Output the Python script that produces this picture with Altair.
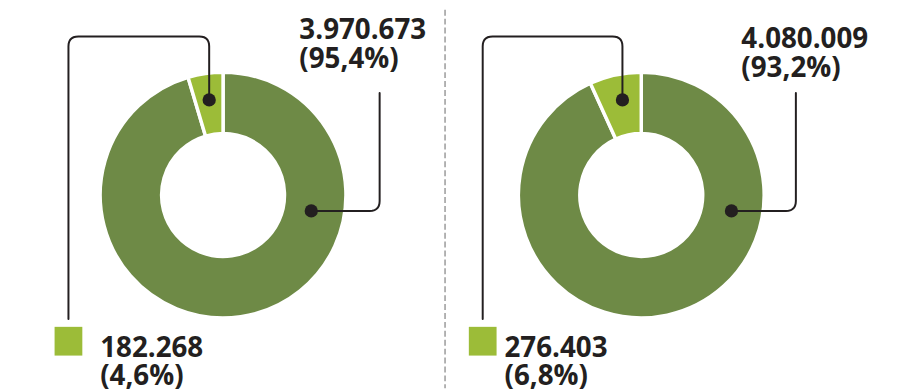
import altair as alt
import pandas as pd
import numpy as np

# ---------------- data ----------------
panels = ["Pannello A", "Pannello B"]
categories = ["Occupati non agricoli", "Occupati agricoli"]
values_a = [3970673, 182268]
values_b = [4080009, 276403]
pct_a = [95.4, 4.6]
pct_b = [93.2, 6.8]

# ---------------- style / layout ----------------
DARK = "#6e8a46"
LIGHT = "#9cbc38"
INK = "#231f20"
OFF = 8  # page margin
W, H = 900 - OFF, 390 - OFF
FONT = "Open Sans"

centers = {"Pannello A": (225, 195), "Pannello B": (647, 195)}

def fmt_num(v):
    return f"{v:,}".replace(",", ".")

def fmt_pct(p):
    return "(" + f"{p:.1f}".replace(".", ",") + "%)"

XS = alt.Scale(domain=[OFF, 900], range=[0, W], zero=False, nice=False)
YS = alt.Scale(domain=[OFF, 390], range=[0, H], zero=False, nice=False)

rows = []
for p, vals, pcts in [(panels[0], values_a, pct_a), (panels[1], values_b, pct_b)]:
    for i, (c, v, pc) in enumerate(zip(categories, vals, pcts)):
        rows.append({"panel": p, "cat": c, "value": v, "pct": pc, "ord": i})
df = pd.DataFrame(rows)

color_scale = alt.Scale(domain=categories, range=[DARK, LIGHT])

layers = []
for p in panels:
    cx, cy = centers[p]
    arc = alt.Chart(df).transform_filter(alt.datum.panel == p).mark_arc(
        innerRadius=62, outerRadius=124, stroke="white", strokeWidth=3.5
    ).encode(
        theta=alt.Theta("pct:Q", stack=True),
        color=alt.Color("cat:N", scale=color_scale, legend=None),
        order=alt.Order("ord:Q"),
        x=alt.value(cx - OFF),
        y=alt.value(cy - OFF),
    )
    layers.append(arc)

# leader line geometry (layout, reference pixel coords)
def rounded_path(pts, r=10, n=8):
    out = [pts[0]]
    for k in range(1, len(pts) - 1):
        p0, p1, p2 = map(np.array, (pts[k - 1], pts[k], pts[k + 1]))
        d1 = (p0 - p1) / np.linalg.norm(p0 - p1)
        d2 = (p2 - p1) / np.linalg.norm(p2 - p1)
        a = p1 + d1 * r
        b = p1 + d2 * r
        for t in np.linspace(0, 1, n):
            q = (1 - t) ** 2 * a + 2 * (1 - t) * t * p1 + t ** 2 * b
            out.append(tuple(q))
    out.append(pts[-1])
    return out

leaders = {
    "A_light": [(211, 99), (211, 35), (69, 35), (69, 320)],
    "A_dark": [(314, 211), (383, 211), (383, 92)],
    "B_light": [(628, 99), (628, 35), (487, 35), (487, 320)],
    "B_dark": [(738, 211), (803, 211), (803, 92)],
}
lrows = []
for name, pts in leaders.items():
    for j, (x, y) in enumerate(rounded_path(pts)):
        lrows.append({"path": name, "seq": j, "x": x, "y": y})
ldf = pd.DataFrame(lrows)

lines = alt.Chart(ldf).mark_line(color=INK, strokeWidth=2, strokeCap="round").encode(
    x=alt.X("x:Q", scale=XS, axis=None),
    y=alt.Y("y:Q", scale=YS, axis=None),
    detail="path:N",
    order="seq:Q",
)
layers.append(lines)

dots_df = pd.DataFrame([{"x": pts[0][0], "y": pts[0][1]} for pts in leaders.values()])
dots = alt.Chart(dots_df).mark_circle(color=INK, opacity=1, size=180).encode(
    x=alt.X("x:Q", scale=XS, axis=None),
    y=alt.Y("y:Q", scale=YS, axis=None),
)
layers.append(dots)

# legend squares at bottom
sq_df = pd.DataFrame([
    {"x": 55, "x2": 83, "y": 328, "y2": 357, "cat": categories[1]},
    {"x": 473, "x2": 501, "y": 328, "y2": 357, "cat": categories[1]},
])
squares = alt.Chart(sq_df).mark_rect().encode(
    x=alt.X("x:Q", scale=XS, axis=None), x2="x2:Q",
    y=alt.Y("y:Q", scale=YS, axis=None), y2="y2:Q",
    color=alt.Color("cat:N", scale=color_scale, legend=None),
)
layers.append(squares)

# labels (value + percentage on two lines)
label_pos = {
    (panels[0], categories[0]): (302, 38),
    (panels[0], categories[1]): (101, 358),
    (panels[1], categories[0]): (748, 47),
    (panels[1], categories[1]): (509, 358),
}
trows = []
for _, r in df.iterrows():
    x, y = label_pos[(r["panel"], r["cat"])]
    trows.append({"x": x, "y": y, "t": fmt_num(r["value"]) + "\n" + fmt_pct(r["pct"])})
tdf = pd.DataFrame(trows)
texts = alt.Chart(tdf).mark_text(
    font=FONT, fontWeight="bold", fontSize=28, align="left",
    baseline="alphabetic", color=INK, lineBreak="\n", lineHeight=29,
).encode(
    x=alt.X("x:Q", scale=XS, axis=None),
    y=alt.Y("y:Q", scale=YS, axis=None),
    text="t:N",
)
layers.append(texts)

divider = alt.Chart(pd.DataFrame({"a": [0]})).mark_rule(
    color="#9a9a9a", strokeWidth=1.5, strokeDash=[6, 3]
).encode(x=alt.value(449 - OFF), y=alt.value(0), y2=alt.value(H))
layers.append(divider)

chart = alt.layer(*layers).properties(
    width=W, height=H, padding=0,
    autosize=alt.AutoSizeParams(type="none"),
).configure(
    background="white",
    view=alt.ViewConfig(stroke=None),
)

chart.save("out.html", embed_options={"renderer": "svg", "actions": False})
